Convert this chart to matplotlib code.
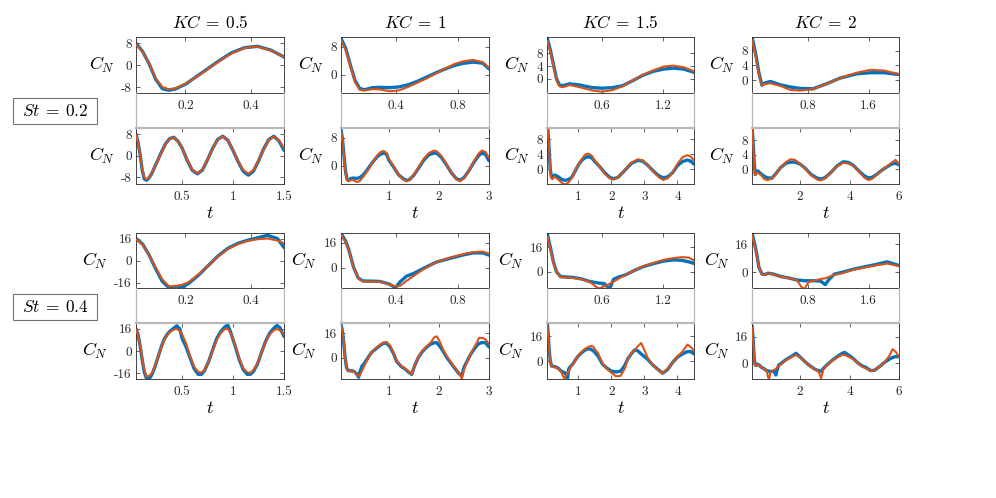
import matplotlib
matplotlib.use('Agg')
import matplotlib.pyplot as plt
from matplotlib.lines import Line2D
from matplotlib.patches import Rectangle

plt.rcParams['mathtext.fontset'] = 'cm'
plt.rcParams['axes.unicode_minus'] = False

# ---------------- data ----------------
KC_labels = ['0.5', '1', '1.5', '2']
St_labels = ['0.2', '0.4']

# St = 0.2
t_r1c1 = [0.05,0.07,0.09,0.11,0.13,0.15,0.17,0.2,0.23,0.26,0.3,0.34,0.38,0.42,0.46,0.5,0.55,0.6,0.65,0.7,0.75,0.8,0.85,0.9,0.95,1.0,1.05,1.1,1.15,1.2,1.25,1.3,1.35,1.4,1.45,1.5]
orange_r1c1 = [7.6,4.8,0.6,-4.8,-8.0,-8.8,-8.5,-6.8,-4.6,-2.2,1.2,4.3,6.3,6.8,5.4,3.0,-1.5,-5.2,-6.6,-5.2,-1.6,2.6,6.0,7.2,5.8,2.2,-2.0,-5.4,-6.7,-5.4,-1.8,2.4,5.8,7.2,5.9,2.8]
blue_r1c1 = [8.0,5.0,0.5,-5.2,-8.6,-9.2,-8.7,-7.0,-4.5,-2.0,1.4,4.5,6.4,6.9,5.5,3.0,-1.6,-5.4,-6.8,-5.4,-1.6,2.7,6.1,7.3,5.8,2.0,-2.2,-5.8,-7.3,-5.8,-2.0,2.5,6.0,7.3,5.6,2.0]

t_r1c2 = [0.05,0.08,0.11,0.14,0.17,0.2,0.25,0.3,0.36,0.42,0.48,0.54,0.6,0.66,0.72,0.78,0.84,0.9,0.96,1.0,1.1,1.2,1.3,1.36,1.42,1.5,1.6,1.7,1.8,1.9,1.96,2.05,2.15,2.25,2.35,2.42,2.5,2.6,2.7,2.8,2.86,2.93,3.0]
orange_r1c2 = [9.8,7.0,2.5,-2.0,-4.2,-4.4,-4.0,-4.1,-4.6,-4.4,-3.4,-2.2,-1.0,0.4,1.8,3.1,3.9,4.2,3.6,2.0,-0.2,-2.6,-4.0,-4.4,-4.0,-2.6,-0.3,2.0,3.6,4.3,4.1,2.8,0.5,-2.0,-3.9,-4.4,-3.6,-1.4,1.3,3.6,4.3,3.9,2.2]
blue_r1c2 = [10.3,7.5,2.8,-1.6,-3.8,-4.2,-3.6,-3.5,-3.6,-3.4,-2.8,-1.8,-0.6,0.6,1.7,2.7,3.3,3.6,3.3,1.7,-0.4,-2.6,-3.8,-4.2,-3.9,-2.7,-0.6,1.6,3.1,3.6,3.5,2.4,0.3,-2.0,-3.7,-4.1,-3.4,-1.4,1.0,3.0,3.6,3.2,1.4]

t_r1c3 = [0.06,0.09,0.12,0.15,0.18,0.21,0.28,0.38,0.5,0.6,0.7,0.8,0.9,1.0,1.1,1.2,1.3,1.4,1.5,1.65,1.8,1.95,2.06,2.2,2.4,2.6,2.8,2.95,3.1,3.3,3.45,3.57,3.7,3.85,4.0,4.15,4.3,4.4,4.5]
orange_r1c3 = [11.8,8.5,4.0,-0.5,-2.4,-2.7,-2.0,-2.7,-3.7,-4.1,-3.6,-2.4,-0.5,1.2,2.6,3.8,4.1,3.6,2.3,0.6,-1.3,-2.5,-2.8,-2.2,-0.3,1.7,2.6,2.3,1.0,-1.0,-2.3,-2.9,-2.5,-1.0,1.4,3.1,3.7,3.3,2.3]
blue_r1c3 = [12.6,9.0,4.5,0.0,-2.0,-2.2,-1.6,-2.0,-2.8,-3.0,-2.8,-2.2,-0.6,1.1,2.3,3.0,3.3,3.0,2.0,0.6,-1.0,-2.2,-2.6,-2.2,-0.4,1.5,2.3,2.1,1.0,-0.8,-1.9,-2.3,-2.1,-1.0,0.9,2.0,2.4,2.1,1.3]

t_r1c4 = [0.07,0.1,0.13,0.16,0.2,0.24,0.31,0.44,0.57,0.7,0.87,1.05,1.22,1.44,1.62,1.8,2.0,2.2,2.45,2.7,2.85,3.0,3.25,3.5,3.75,3.95,4.15,4.4,4.6,4.75,4.9,5.1,5.3,5.5,5.7,5.85,6.0]
orange_r1c4 = [10.9,8.5,5.2,1.5,-1.5,-1.1,-0.9,-1.6,-2.7,-2.9,-2.5,-1.0,0.5,2.0,2.8,2.6,1.6,0.3,-1.6,-2.8,-3.0,-2.5,-0.8,0.9,1.8,1.6,1.0,-0.8,-2.3,-2.9,-2.6,-1.4,-0.2,0.8,1.9,2.6,1.4]
blue_r1c4 = [11.8,9.0,5.8,2.0,-1.4,-0.8,-0.4,-1.3,-1.9,-2.3,-2.4,-1.0,0.5,1.7,2.0,2.0,1.5,0.4,-1.4,-2.4,-2.6,-2.3,-0.8,1.0,2.1,1.9,1.1,-0.6,-1.8,-2.3,-2.2,-1.3,-0.2,0.7,1.5,1.7,1.2]

# St = 0.4
t_r2c1 = [0.05,0.07,0.09,0.11,0.13,0.15,0.17,0.19,0.21,0.24,0.27,0.3,0.33,0.36,0.39,0.42,0.45,0.48,0.5,0.54,0.58,0.62,0.66,0.69,0.72,0.76,0.8,0.84,0.88,0.92,0.95,0.98,1.02,1.06,1.1,1.14,1.17,1.2,1.24,1.28,1.32,1.36,1.4,1.43,1.46,1.5]
orange_r2c1 = [15.5,11.5,4.0,-5.0,-13.5,-18.5,-18.3,-17.5,-15.5,-10.0,-3.5,3.0,8.5,12.0,14.3,15.5,16.0,14.5,12.5,5.5,-3.5,-11.5,-15.2,-15.7,-14.0,-8.0,0.0,8.0,13.0,16.0,16.0,12.5,4.5,-5.0,-12.5,-15.5,-15.8,-14.0,-9.0,-1.0,6.5,12.0,15.0,16.0,15.0,12.0]
blue_r2c1 = [16.0,12.0,4.0,-6.0,-15.0,-19.5,-19.5,-19.2,-16.5,-10.5,-3.5,3.5,9.0,12.5,14.8,16.5,18.3,16.0,9.5,3.0,-5.0,-13.0,-17.0,-17.0,-14.5,-8.0,0.5,9.0,14.0,17.5,18.8,13.0,4.0,-6.0,-13.5,-17.0,-17.0,-15.0,-9.5,-1.0,7.0,13.0,16.5,18.5,17.0,10.5]

t_r2c2 = [0.05,0.08,0.1,0.13,0.16,0.19,0.24,0.3,0.36,0.4,0.43,0.47,0.52,0.58,0.66,0.75,0.84,0.9,0.96,1.03,1.1,1.16,1.25,1.33,1.4,1.46,1.52,1.59,1.67,1.76,1.84,1.91,1.96,2.02,2.09,2.16,2.24,2.32,2.4,2.46,2.5,2.56,2.63,2.7,2.76,2.8,2.87,2.93,3.0]
orange_r2c2 = [21.0,16.5,11.0,0.5,-6.5,-8.8,-8.9,-9.0,-10.8,-12.0,-11.5,-8.5,-5.0,-1.0,3.5,6.5,8.8,10.0,10.3,8.0,3.0,-2.0,-5.5,-7.2,-9.0,-11.0,-5.0,0.5,4.5,7.5,10.0,13.5,14.0,10.5,5.0,1.0,-3.0,-6.5,-10.0,-14.0,-8.0,-3.0,2.0,6.5,10.0,13.0,13.0,12.0,9.0]
blue_r2c2 = [22.0,17.0,11.5,0.5,-6.5,-8.5,-8.6,-8.8,-10.5,-12.8,-9.0,-5.5,-3.5,-0.4,3.5,6.0,8.3,9.5,9.5,7.0,2.5,-2.5,-5.8,-7.5,-9.5,-11.0,-5.0,0.0,4.0,7.0,9.0,9.8,9.8,7.5,4.0,0.0,-3.5,-7.0,-10.5,-11.5,-6.5,-2.5,2.0,5.5,8.0,9.3,10.0,9.8,7.0]

t_r2c3 = [0.06,0.09,0.12,0.15,0.19,0.25,0.32,0.4,0.48,0.53,0.57,0.62,0.67,0.71,0.76,0.83,0.92,1.0,1.1,1.2,1.3,1.38,1.45,1.5,1.6,1.73,1.86,2.0,2.14,2.28,2.4,2.5,2.6,2.7,2.8,2.9,3.0,3.1,3.25,3.4,3.55,3.7,3.85,4.0,4.15,4.3,4.4,4.5]
orange_r2c3 = [23.0,15.0,6.0,0.0,-3.6,-3.8,-4.2,-5.0,-6.8,-9.5,-11.0,-9.5,-8.0,-6.6,-4.5,-2.0,1.0,3.5,5.8,7.8,9.0,9.6,9.3,7.5,5.0,-1.5,-5.0,-7.5,-9.8,-9.5,-5.0,1.5,5.0,6.5,9.5,11.5,7.0,2.0,-2.5,-5.5,-7.8,-5.0,-1.0,3.0,6.0,10.5,9.0,6.5]
blue_r2c3 = [25.0,16.0,6.5,0.0,-3.2,-3.5,-3.8,-4.8,-6.5,-7.0,-7.5,-7.8,-11.5,-5.0,-3.5,-2.0,1.0,3.3,5.3,7.0,7.8,7.5,6.5,5.5,3.0,-2.0,-4.5,-6.5,-7.0,-6.5,-3.0,1.5,4.5,7.0,6.5,4.5,2.8,1.0,-2.5,-5.2,-7.8,-5.5,-1.0,2.5,4.5,6.0,6.0,4.5]

t_r2c4 = [0.07,0.1,0.13,0.16,0.2,0.24,0.28,0.35,0.44,0.57,0.66,0.72,0.76,0.81,0.9,0.97,1.03,1.08,1.15,1.25,1.4,1.55,1.7,1.84,1.95,2.05,2.2,2.4,2.6,2.75,2.85,2.95,3.1,3.3,3.5,3.7,3.8,3.95,4.15,4.35,4.5,4.65,4.85,5.0,5.2,5.4,5.6,5.73,5.85,6.0]
orange_r2c4 = [21.0,16.0,10.5,3.0,-1.2,-1.5,-0.6,-1.2,-2.5,-3.4,-4.5,-8.5,-9.5,-5.5,-4.5,-3.8,-3.4,-2.5,-1.5,-0.5,1.5,2.8,4.0,5.0,4.0,3.0,1.0,-1.5,-3.5,-5.0,-9.0,-3.5,-1.0,1.5,3.5,5.0,5.0,4.0,2.5,0.0,-2.0,-3.0,-4.5,-4.0,-2.0,0.5,4.5,8.5,7.0,3.8]
blue_r2c4 = [22.5,17.0,11.0,3.0,-1.0,-1.3,-0.5,-1.0,-2.3,-3.4,-4.4,-4.6,-4.8,-4.8,-4.8,-5.0,-7.0,-4.0,-1.0,0.0,1.8,3.2,4.5,6.0,4.5,3.2,1.0,-1.5,-3.5,-4.5,-4.8,-3.0,-0.8,1.8,4.0,6.0,6.5,5.0,2.8,0.0,-1.5,-2.4,-4.4,-4.2,-2.0,0.5,2.5,3.5,4.0,4.0]

# tick values
xticks_top = [[0.2, 0.4], [0.4, 0.8], [0.6, 1.2], [0.8, 1.6]]
xticks_bot = [[0.5, 1, 1.5], [1, 2, 3], [1, 2, 3, 4], [2, 4, 6]]
yticks = [[[-8, 0, 8], [0, 8], [0, 4, 8], [0, 4, 8]],
          [[-16, 0, 16], [0, 16], [0, 16], [0, 16]]]

# ---------------- layout / styling ----------------
series = [[(t_r1c1, blue_r1c1, orange_r1c1), (t_r1c2, blue_r1c2, orange_r1c2),
           (t_r1c3, blue_r1c3, orange_r1c3), (t_r1c4, blue_r1c4, orange_r1c4)],
          [(t_r2c1, blue_r2c1, orange_r2c1), (t_r2c2, blue_r2c2, orange_r2c2),
           (t_r2c3, blue_r2c3, orange_r2c3), (t_r2c4, blue_r2c4, orange_r2c4)]]

xlim_bot = [(0.05, 1.5), (0.05, 3.0), (0.06, 4.5), (0.07, 6.0)]
ylim_top = [[(-10.2, 10.2), (-5.1, 10.6), (-4.5, 13.0), (-3.55, 11.7)],
            [(-20.0, 20.2), (-13.2, 22.4), (-10.9, 25.7), (-9.1, 22.6)]]
ylim_bot = [[(-10.5, 10.5), (-5.1, 10.8), (-3.9, 11.0), (-3.9, 11.4)],
            [(-20.6, 20.1), (-14.2, 22.6), (-11.7, 24.1), (-9.6, 24.0)]]
ylab_off = [[-34, -30, -30, -30], [-41, -37, -36, -35]]

W, H = 996, 498
col_x = [(136, 284), (341, 489), (547.3, 694), (752, 899.3)]
row_y = [((37.3, 93), (127.7, 183.7)), ((232.7, 288.3), (323.3, 379.3))]

BLUE = '#0072BD'
ORANGE = '#D95319'
AX_C = '0.15'
GAP_C = '0.72'

fig = plt.figure(figsize=(W / 100, H / 100), dpi=100)


def add_ax(x0, x1, y0, y1):
    return fig.add_axes([x0 / W, 1 - y1 / H, (x1 - x0) / W, (y1 - y0) / H])


def fmt(v):
    return f'{v:g}'


def style(ax, xt, yt):
    for s in ax.spines.values():
        s.set_color(AX_C)
        s.set_linewidth(0.6)
    ax.tick_params(direction='in', length=3, width=0.5, colors=AX_C,
                   top=True, right=True, labelsize=9.5)
    ax.tick_params(axis='x', pad=5)
    ax.tick_params(axis='y', pad=3)
    ax.set_xticks(xt, labels=[fmt(v) for v in xt], fontfamily='cmr10', color='0.15')
    ax.set_yticks(yt, labels=[fmt(v) for v in yt], fontfamily='cmr10', color='0.15')


for r in range(2):
    (ty0, ty1), (by0, by1) = row_y[r]
    for c in range(4):
        x0, x1 = col_x[c]
        t, blue, orange = series[r][c]
        lo, hi = xlim_bot[c]
        for ax_i, (ya, yb) in enumerate([(ty0, ty1), (by0, by1)]):
            ax = add_ax(x0, x1, ya, yb)
            ax.plot(t, blue, color=BLUE, lw=2.4, solid_capstyle='round', zorder=2)
            ax.plot(t, orange, color=ORANGE, lw=1.5, zorder=3)
            if ax_i == 0:
                ax.set_xlim(lo, hi / 3)
                ax.set_ylim(*ylim_top[r][c])
                style(ax, xticks_top[c], yticks[r][c])
            else:
                ax.set_xlim(lo, hi)
                ax.set_ylim(*ylim_bot[r][c])
                style(ax, xticks_bot[c], yticks[r][c])
                ax.spines['top'].set_color(GAP_C)
                ax.spines['top'].set_linewidth(1.6)
                ax.text(0.5, -29 / (yb - ya), r'$t$', transform=ax.transAxes,
                        ha='center', va='center', fontsize=13)
            ax.text(ylab_off[r][c] / (x1 - x0), 0.5, r'$C_N$', transform=ax.transAxes,
                    ha='center', va='center', fontsize=13)
            if r == 0 and ax_i == 0:
                ax.text(0.5, 1 + 14 / (yb - ya), r'$KC\:=\:%s$' % KC_labels[c],
                        transform=ax.transAxes, ha='center', va='center', fontsize=12.5)
        # grey connector lines between the two axes of a panel
        for xx in (x0, x1):
            fig.add_artist(Line2D([xx / W, xx / W], [1 - ty1 / H, 1 - by0 / H],
                                  color=GAP_C, lw=0.9, transform=fig.transFigure))

    # St label boxes
    yc = (row_y[r][0][1] + row_y[r][1][0]) / 2 + 1
    fig.add_artist(Rectangle((13.3 / W, 1 - (yc + 13) / H), (96.7 - 13.3) / W, 26 / H,
                             transform=fig.transFigure, fill=False,
                             edgecolor='0.45', lw=0.8))
    fig.text(55 / W, 1 - yc / H, r'$St\:=\:%s$' % St_labels[r], ha='center', va='center',
             fontsize=12.5)

fig.savefig('out.png', dpi=100)
